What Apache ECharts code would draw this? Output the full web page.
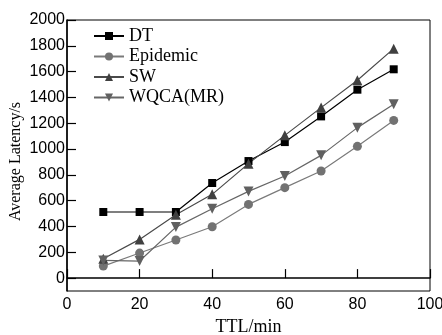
<!DOCTYPE html>
<html><head><meta charset="utf-8">
<script src="https://cdn.jsdelivr.net/npm/echarts@6/dist/echarts.min.js"></script>
<style>html,body{margin:0;padding:0;background:#fff}#c{width:442px;height:335px}</style>
</head><body><div id="c"></div>
<script>
const ttl = [10, 20, 30, 40, 50, 60, 70, 80, 90];
const dt = [512, 512, 512, 737, 907, 1054, 1253, 1460, 1618];
const epidemic = [93, 194, 295, 398, 571, 701, 830, 1021, 1222];
const sw = [150, 300, 491, 649, 887, 1106, 1321, 1533, 1778];
const wqca = [137, 132, 395, 538, 672, 791, 951, 1166, 1347];
const yTicks = [0, 200, 400, 600, 800, 1000, 1200, 1400, 1600, 1800, 2000];
const xTicks = [0, 20, 40, 60, 80, 100];

const pair = a => ttl.map((x, i) => [x, a[i]]);
const serif = '"Liberation Serif", "Times New Roman", serif';
const sans = '"Liberation Sans", Arial, sans-serif';

function mk(name, data, color, lineColor, symbol, size) {
  return {
    name, type: 'line', data: pair(data), symbol, symbolSize: size,
    itemStyle: { color }, lineStyle: { color: lineColor, width: 1.2 },
    emphasis: { disabled: true }, animation: false
  };
}

const chart = echarts.init(document.getElementById('c'), null, { renderer: 'canvas' });
chart.setOption({
  animation: false,
  grid: { left: 67, right: 12, top: 20, bottom: 44, show: true, borderColor: '#000', borderWidth: 1,
          containLabel: false, outerBoundsMode: 'none' },
  legend: {
    orient: 'vertical', left: 93, top: 27, padding: 0, itemGap: 2.5,
    itemWidth: 30, itemHeight: 10,
    textStyle: { fontFamily: serif, fontSize: 18, color: '#000', lineHeight: 18 },
    data: ['DT', 'Epidemic', 'SW', 'WQCA(MR)']
  },
  xAxis: {
    type: 'value', min: 0, max: 100, interval: 20,
    name: 'TTL/min', nameLocation: 'middle', nameGap: 25,
    nameTextStyle: { fontFamily: serif, fontSize: 18, color: '#000' },
    axisLine: { lineStyle: { color: '#000', width: 1.5 } },
    axisTick: { inside: true, length: 9, lineStyle: { color: '#000', width: 1.2 }, customValues: xTicks },
    axisLabel: { fontFamily: sans, fontSize: 16, color: '#000', margin: 6, customValues: xTicks,
                 formatter: v => String(v) },
    splitLine: { show: false }
  },
  yAxis: {
    type: 'value', min: -100, max: 2000,
    name: 'Average Latency/s', nameLocation: 'middle', nameGap: 43, nameMoveOverlap: false,
    nameTextStyle: { fontFamily: serif, fontSize: 16, color: '#000', padding: [0, 12, 0, 0] },
    axisLine: { lineStyle: { color: '#000', width: 1.5 } },
    axisTick: { inside: true, length: 9, lineStyle: { color: '#000', width: 1.2 }, customValues: yTicks },
    axisLabel: { fontFamily: sans, fontSize: 16, color: '#000', margin: 2, customValues: yTicks,
                 formatter: v => String(v) },
    splitLine: { show: false }
  },
  series: [
    mk('DT', dt, '#000', '#000', 'rect', 8),
    mk('Epidemic', epidemic, '#727272', '#7a7a7a', 'circle', 9),
    mk('SW', sw, '#404040', '#4a4a4a', 'triangle', 10),
    { ...mk('WQCA(MR)', wqca, '#606060', '#666', 'triangle', 10), symbolRotate: 180 }
  ]
});
</script></body></html>
